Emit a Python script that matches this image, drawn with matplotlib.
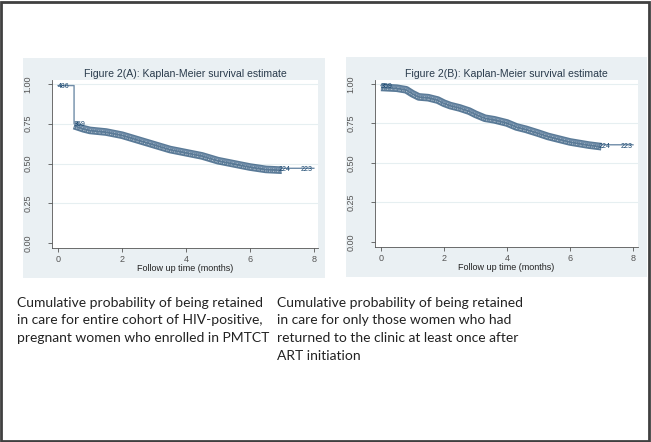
import matplotlib
matplotlib.use("Agg")
import matplotlib.pyplot as plt
from matplotlib.patches import Rectangle

# Kaplan-Meier estimates (time in months, survival)
time_a = [0, 0.5, 0.5, 0.8, 1.0, 1.5, 2.0, 2.5, 3.0, 3.5, 4.0, 4.5, 5.0, 5.5, 6.0, 6.5, 7.0, 8.0]
surv_a = [0.99, 0.99, 0.75, 0.73, 0.72, 0.71, 0.69, 0.66, 0.63, 0.60, 0.58, 0.56, 0.53, 0.51, 0.49, 0.475, 0.47, 0.47]

time_b = [0, 0.5, 0.8, 1.0, 1.2, 1.5, 1.8, 2.0, 2.2, 2.5, 2.8, 3.0, 3.3, 3.6, 4.0, 4.3, 4.6,
          5.0, 5.3, 5.6, 6.0, 6.3, 6.6, 7.0, 8.0]
surv_b = [0.99, 0.985, 0.975, 0.95, 0.93, 0.925, 0.91, 0.89, 0.875, 0.86, 0.84, 0.82, 0.795,
          0.785, 0.765, 0.74, 0.725, 0.70, 0.68, 0.665, 0.645, 0.635, 0.625, 0.615, 0.615]

# number at risk labels that can still be read (time, survival level, label)
risk_a = [(0.0, 0.985, "486"), (0.5, 0.745, "359"), (6.9, 0.462, "224"), (7.6, 0.462, "223")]
risk_b = [(0.0, 0.985, "359"), (6.9, 0.607, "224"), (7.6, 0.607, "223")]

titles = ["Figure 2(A): Kaplan-Meier survival estimate",
          "Figure 2(B): Kaplan-Meier survival estimate"]
captions = ["Cumulative probability of being retained\nin care for entire cohort of HIV-positive,\npregnant women who enrolled in PMTCT",
            "Cumulative probability of being retained\nin care for only those women who had\nreturned to the clinic at least once after\nART initiation"]
yticks = [0, 0.25, 0.5, 0.75, 1.0]
xticks = [0, 2, 4, 6, 8]

W, H = 651, 442
fig = plt.figure(figsize=(W / 100, H / 100), dpi=100)
fig.patch.set_facecolor("white")

def box(l, t, r, b):
    return [l / W, 1 - b / H, (r - l) / W, (b - t) / H]

# outer frame
fig.patches.append(Rectangle((1 / W, 1 / H), 647.5 / W, 439.5 / H, transform=fig.transFigure,
                             fill=False, edgecolor="#404040", linewidth=2, zorder=3))

navy = "#1a476f"
panels = [
    (box(23, 58, 325, 278), box(52, 80, 318, 248), (-0.19, 8.13), (-0.031, 1.025),
     time_a, surv_a, risk_a, 17),
    (box(346, 57, 647, 277), box(375, 80, 638, 247), (-0.19, 8.16), (-0.032, 1.025),
     time_b, surv_b, risk_b, 277),
]

for i, (bg, pos, xl, yl, t, s, risk, capx) in enumerate(panels):
    fig.patches.append(Rectangle((bg[0], bg[1]), bg[2], bg[3], transform=fig.transFigure,
                                 facecolor="#eaf0f3", edgecolor="none", zorder=-5))
    ax = fig.add_axes(pos)
    ax.set_facecolor("white")
    ax.set_xlim(*xl)
    ax.set_ylim(*yl)
    for yv in yticks[1:]:
        ax.axhline(yv, color="#e6eff1", linewidth=0.8, zorder=1)
    # band of overlapping at-risk numbers along the curve
    k = 2 if i == 0 else 0
    tb = t[k:-1]
    sb = [v - 0.012 for v in s[k:-1]]
    ax.plot(tb, sb, color=navy, linewidth=5.5, alpha=0.72, solid_capstyle="butt", zorder=2)
    ax.plot(tb, [v + 0.008 for v in sb], color="white", linewidth=0.7, alpha=0.7,
            linestyle=(0, (1.5, 1, 0.5, 1.2)), zorder=3)
    ax.plot(tb, [v - 0.01 for v in sb], color="white", linewidth=0.7, alpha=0.6,
            linestyle=(0, (0.6, 1.4, 1.2, 0.8)), zorder=3)
    ax.plot(t, s, color="#6f8ca8", linewidth=1.0, zorder=4)
    for x, y, lab in risk:
        ax.text(x, y, lab, fontsize=5, color=navy, va="center", ha="left", zorder=5,
                family="Liberation Sans")
    for side in ["top", "right"]:
        ax.spines[side].set_visible(False)
    for side in ["left", "bottom"]:
        ax.spines[side].set_color("#555555")
        ax.spines[side].set_linewidth(0.6)
    ax.set_yticks(yticks)
    ax.set_yticklabels(["0.00", "0.25", "0.50", "0.75", "1.00"], rotation=90, va="center")
    ax.set_xticks(xticks)
    ax.tick_params(labelsize=6.5, colors="#555555", length=3, width=0.6)
    ax.tick_params(axis="y", pad=11)
    ax.tick_params(axis="x", pad=2)
    for lab in ax.get_xticklabels() + ax.get_yticklabels():
        lab.set_family("Liberation Sans")
    ax.set_xlabel("Follow up time (months)", fontsize=6.5, family="Liberation Sans",
                  color="#222222", labelpad=0)
    ax.set_title(titles[i], fontsize=7.6, family="Liberation Sans", color="#2a3b4c", pad=2)

    fig.text(capx / W, 1 - 297 / H, captions[i], fontsize=10, family="Lato",
             color="#222222", va="top", ha="left", linespacing=1.55)

fig.savefig("out.png", dpi=100)
